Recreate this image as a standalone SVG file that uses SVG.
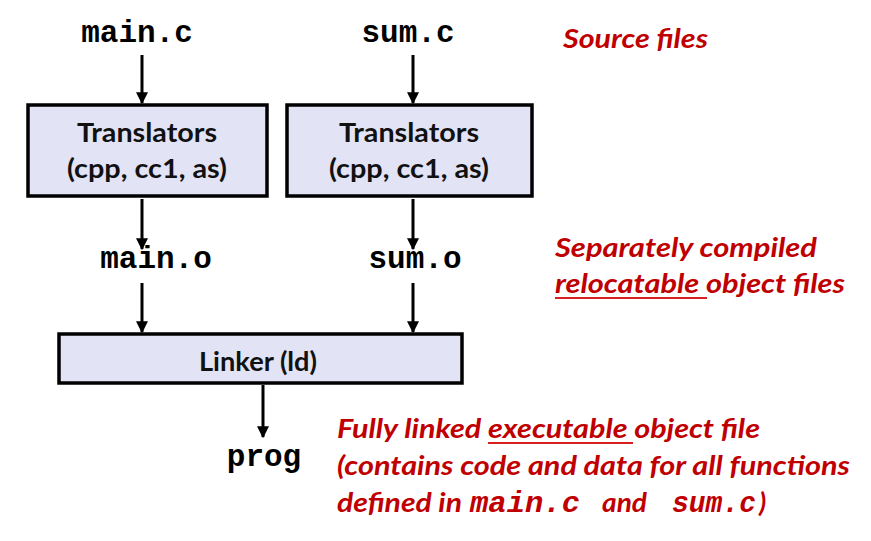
<svg xmlns="http://www.w3.org/2000/svg" width="871" height="541" viewBox="0 0 871 541">
  <style>
    .box { fill: #e2e3f5; stroke: #000; stroke-width: 3.5; }
    .code { font-family: "Liberation Mono", "Courier New", monospace; font-weight: bold; font-size: 31px; fill: #000; }
    .lbl { font-family: Lato, "Open Sans", sans-serif; font-weight: bold; font-size: 26px; fill: #111; text-anchor: middle; }
    .note { font-family: Lato, "Open Sans", sans-serif; font-weight: bold; font-style: italic; font-size: 27px; fill: #c00000; }
    .notecode { font-family: "Liberation Mono", "Courier New", monospace; font-weight: bold; font-style: italic; font-size: 29px; }
    .edge { stroke: #000; stroke-width: 3; fill: none; marker-end: url(#arrow); }
    .ul { stroke: #d82020; stroke-width: 2; }
  </style>
  <defs>
    <marker id="arrow" viewBox="0 0 10 10" refX="9" refY="5" markerWidth="4" markerHeight="4" orient="auto" markerUnits="strokeWidth">
      <path d="M0,0 L10,5 L0,10 z" fill="#000"/>
    </marker>
  </defs>

  <rect width="871" height="541" fill="#fff"/>

  <g id="edges">
    <line class="edge" x1="142" y1="55" x2="142" y2="103"/>
    <line class="edge" x1="413" y1="55" x2="413" y2="103"/>
    <line class="edge" x1="142" y1="199" x2="142" y2="249"/>
    <line class="edge" x1="413" y1="199" x2="413" y2="249"/>
    <line class="edge" x1="142" y1="283" x2="142" y2="332"/>
    <line class="edge" x1="413" y1="283" x2="413" y2="332"/>
    <line class="edge" x1="263" y1="385" x2="263" y2="437"/>
  </g>

  <g id="main-c"><text class="code" x="137" y="42" text-anchor="middle">main.c</text></g>
  <g id="sum-c"><text class="code" x="408" y="42" text-anchor="middle">sum.c</text></g>

  <g id="translators-1">
    <rect class="box" x="28" y="105" width="239" height="91"/>
    <text class="lbl" x="147" y="142" textLength="140" lengthAdjust="spacingAndGlyphs">Translators</text>
    <text class="lbl" x="147" y="178" textLength="160" lengthAdjust="spacingAndGlyphs">(cpp, cc1, as)</text>
  </g>
  <g id="translators-2">
    <rect class="box" x="287" y="105" width="245" height="91"/>
    <text class="lbl" x="409" y="142" textLength="140" lengthAdjust="spacingAndGlyphs">Translators</text>
    <text class="lbl" x="409" y="178" textLength="160" lengthAdjust="spacingAndGlyphs">(cpp, cc1, as)</text>
  </g>

  <g id="main-o"><text class="code" x="156" y="268" text-anchor="middle">main.o</text></g>
  <g id="sum-o"><text class="code" x="415" y="268" text-anchor="middle">sum.o</text></g>

  <g id="linker">
    <rect class="box" x="59" y="334" width="403" height="49"/>
    <text class="lbl" x="258" y="371" textLength="118" lengthAdjust="spacingAndGlyphs">Linker (ld)</text>
  </g>

  <g id="prog"><text class="code" x="264" y="466" text-anchor="middle">prog</text></g>

  <g id="note-source">
    <text class="note" x="563" y="48" textLength="145" lengthAdjust="spacingAndGlyphs">Source files</text>
  </g>
  <g id="note-objects">
    <text class="note" x="555" y="257" textLength="262" lengthAdjust="spacingAndGlyphs">Separately compiled</text>
    <text class="note" x="555" y="293" textLength="290" lengthAdjust="spacingAndGlyphs">relocatable object files</text>
    <line class="ul" x1="555" y1="298" x2="707" y2="298"/>
  </g>
  <g id="note-exec">
    <text class="note" x="337" y="438" textLength="423" lengthAdjust="spacingAndGlyphs">Fully linked executable object file</text>
    <line class="ul" x1="488" y1="443" x2="633" y2="443"/>
    <text class="note" x="337" y="475" textLength="513" lengthAdjust="spacingAndGlyphs">(contains code and data for all functions</text>
    <text class="note" y="512"><tspan x="337" textLength="125" lengthAdjust="spacingAndGlyphs">defined in</tspan><tspan class="notecode" x="470" textLength="110" lengthAdjust="spacingAndGlyphs">main.c</tspan><tspan x="602" textLength="45" lengthAdjust="spacingAndGlyphs">and</tspan><tspan class="notecode" x="672" textLength="84" lengthAdjust="spacingAndGlyphs">sum.c</tspan><tspan x="759">)</tspan></text>
  </g>
</svg>
